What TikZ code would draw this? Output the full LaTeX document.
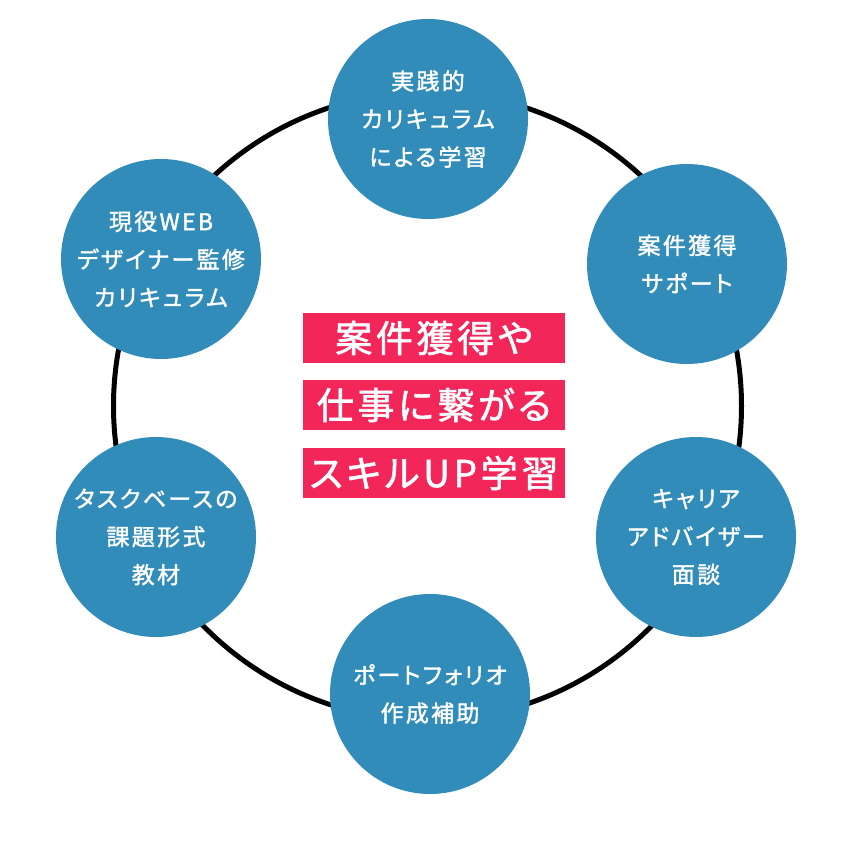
\documentclass[tikz,border=0pt]{standalone}
\usepackage{fontspec}
\newfontfamily\jp{Noto Sans CJK JP}[RawFeature=+palt,LetterSpace=10,FakeBold=1.6]
\definecolor{bubbleblue}{RGB}{50,140,185}
\definecolor{barred}{RGB}{243,38,90}
\begin{document}
\begin{tikzpicture}[x=1pt,y=-1pt,
  bubble/.style={circle,fill=bubbleblue,minimum size=200pt,inner sep=0pt,
    text=white,align=center,font=\jp\fontsize{23}{38}\selectfont},
  redbar/.style={fill=barred,minimum width=262pt,minimum height=50pt,inner sep=0pt,
    text=white,font=\jp\fontsize{37}{40}\selectfont}]
\useasboundingbox (0,0) rectangle (860,845);
% ring behind the bubbles
\draw[line width=5pt] (427.5,406) circle (314pt);
% bubbles
\node[bubble] (curric) at (428,119) {実践的\\カリキュラム\\による学習};
\node[bubble] (support) at (687,264) {案件獲得\\サポート};
\node[bubble] (advisor) at (696,537) {キャリア\\アドバイザー\\面談};
\node[bubble] (folio) at (430,694) {ポートフォリオ\\作成補助};
\node[bubble] (tasks) at (156,537) {タスクベースの\\課題形式\\教材};
\node[bubble] (mentor) at (161,259) {現役WEB\\デザイナー監修\\カリキュラム};
% center message
\node[redbar] (msga) at (434,338) {案件獲得や};
\node[redbar] (msgb) at (434,405) {仕事に繋がる};
\node[redbar] (msgc) at (434,473) {スキルUP学習};
\end{tikzpicture}
\end{document}
